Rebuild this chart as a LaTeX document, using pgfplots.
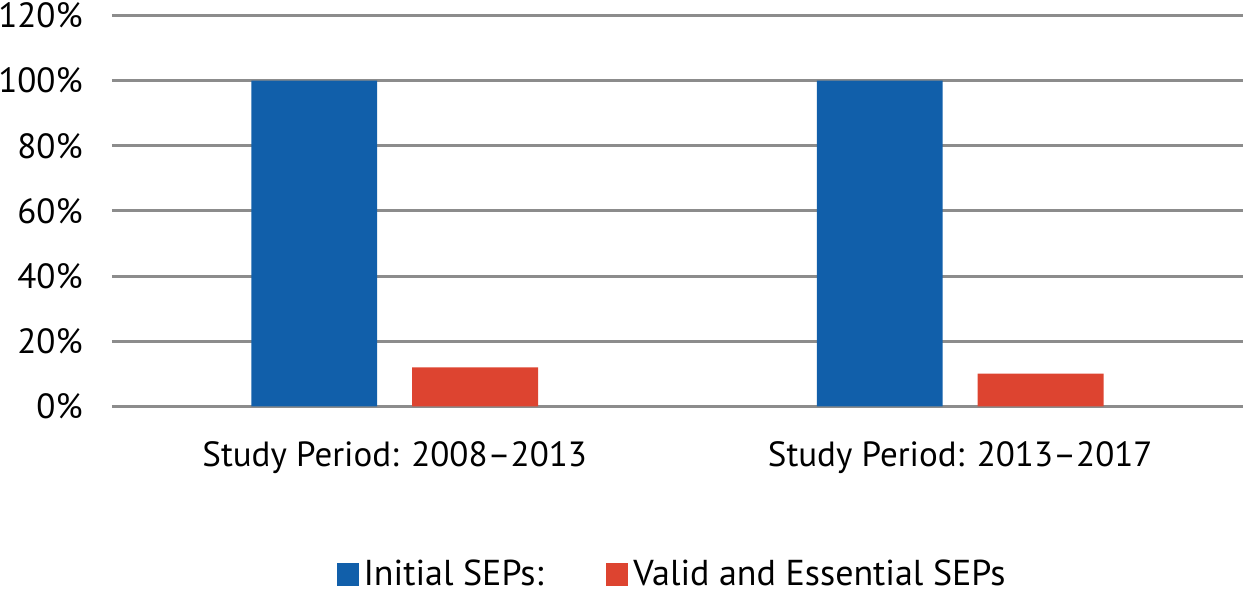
\documentclass[border=0pt]{standalone}
\usepackage{fontspec}
\setmainfont{PT Sans}
\usepackage{pgfplots}
\pgfplotsset{compat=1.18}
\definecolor{barblue}{HTML}{115FAA}
\definecolor{barred}{HTML}{DD4430}
\definecolor{gridgray}{HTML}{8C8C8C}
\begin{document}
\begin{tikzpicture}
\begin{axis}[
  scale only axis,
  width=565.5pt, height=195.5pt,
  xmin=-0.5, xmax=1.5, ymin=0, ymax=120,
  ytick={0,20,...,120},
  xtick={0,1},
  xticklabels={Study Period: 2008--2013, Study Period: 2013--2017},
  axis line style={draw=none},
  major tick length=0pt,
  ymajorgrids,
  major grid style={gridgray, line width=1.5pt},
  /pgf/number format/assume math mode=true,
  yticklabel={\pgfmathprintnumber{\tick}\%},
  tick label style={font=\fontsize{17.5}{21}\selectfont},
  yticklabel style={anchor=east, inner sep=0pt, xshift=-14.5pt},
  xticklabel style={anchor=base, inner sep=0pt, yshift=-30.25pt},
  legend style={at={(0.4965,-0.43)}, anchor=center, draw=none, fill=none,
    legend columns=2, font=\fontsize{18}{21}\selectfont,
    nodes={inner xsep=2.5pt, inner ysep=0.5pt},
    /tikz/every even column/.append style={column sep=29pt}},
]
\addplot[ybar, fill=barblue, draw=none, bar width=0.2226, bar shift=-0.1422,
  legend image code/.code={\fill[barblue] (0pt,-5.75pt) rectangle (11pt,5.75pt);}]
  coordinates {(0,100) (1,100)};
\addlegendentry{Initial SEPs:}
\addplot[ybar, fill=barred, draw=none, bar width=0.2226, bar shift=0.1422,
  legend image code/.code={\fill[barred] (0pt,-5.75pt) rectangle (11pt,5.75pt);}]
  coordinates {(0,12) (1,10.1)};
\addlegendentry{Valid and Essential SEPs}
\coordinate (bl) at (rel axis cs:-0.0990,-0.477);
\coordinate (tr) at (rel axis cs:1.0018,1.0396);
\end{axis}
\pgfresetboundingbox
\path[use as bounding box] (bl) rectangle (tr);
\end{tikzpicture}
\end{document}
